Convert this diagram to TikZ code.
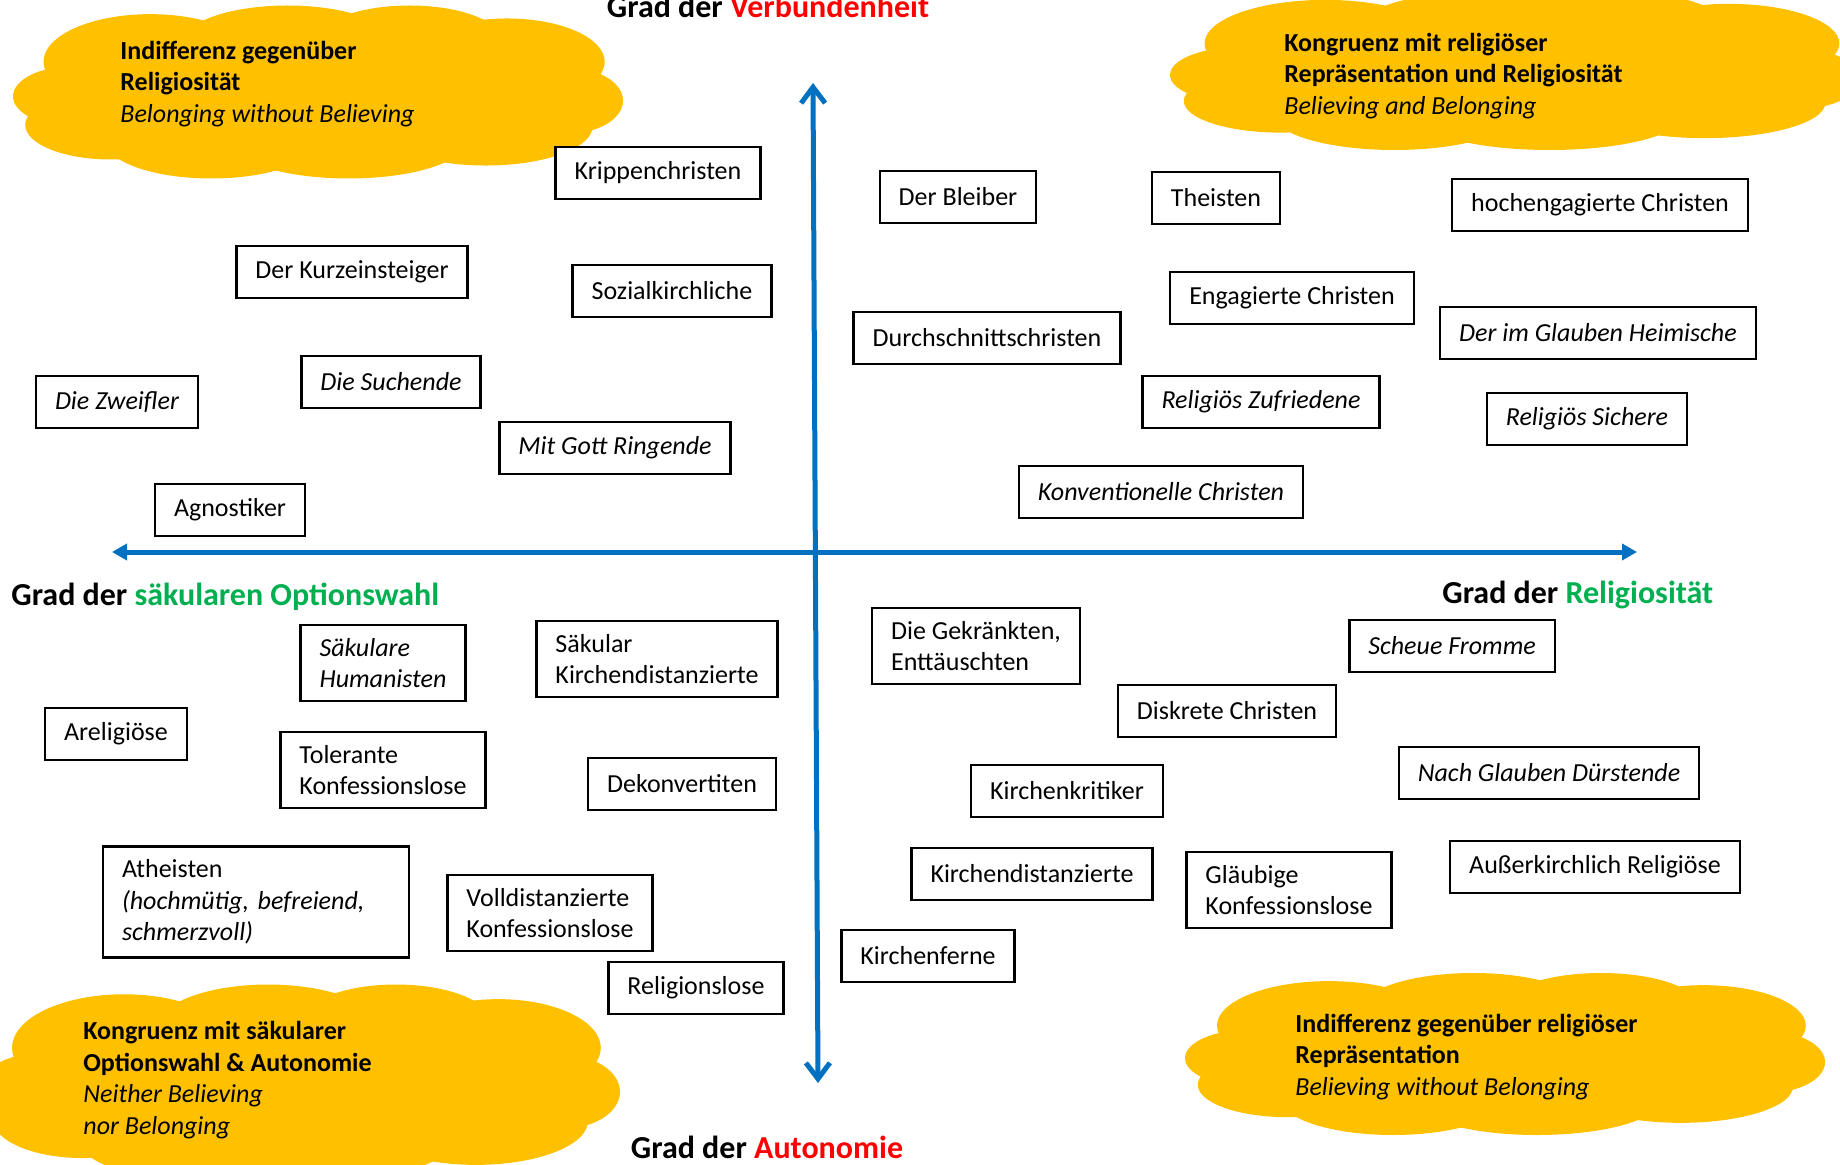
\documentclass[tikz,border=0pt]{standalone}
\usepackage{fontspec}
\setmainfont{Carlito}
\usetikzlibrary{arrows.meta}
\definecolor{axisblue}{HTML}{0070C0}
\definecolor{cloudyellow}{HTML}{FFC000}
\definecolor{titlered}{HTML}{FF0000}
\definecolor{titlegreen}{HTML}{00B050}

\begin{document}
\begin{tikzpicture}[%
x=0.5pt, y=-0.5pt,
typbox/.style={draw, fill=white, line width=1.2pt, inner xsep=9.5pt, inner ysep=6.5pt,
  minimum height=26pt, align=left, font=\fontsize{13pt}{15.8pt}\selectfont},
typboxit/.style={typbox, font=\fontsize{13pt}{15.8pt}\selectfont\itshape},
wolke/.pic={
  \fill[cloudyellow] (0,0) ellipse [x radius=0.72, y radius=0.7];
  \foreach \dx/\dy/\rx/\ry in {-0.80/0.05/0.20/0.35, -0.55/-0.35/0.35/0.55, -0.10/-0.55/0.35/0.45,
      0.30/-0.60/0.30/0.40, 0.62/-0.35/0.32/0.50, 0.82/0.10/0.18/0.38, 0.55/0.40/0.35/0.45,
      0.10/0.58/0.38/0.42, -0.35/0.55/0.35/0.45, -0.68/0.38/0.28/0.40}
    \fill[cloudyellow] (\dx,\dy) ellipse [x radius=\rx, y radius=\ry];
},
wolkentext/.style={anchor=west, align=left, inner sep=0pt, font=\fontsize{13pt}{15.8pt}\selectfont},
achse/.style={draw=axisblue, line width=2.5pt},
achsentitel/.style={anchor=base, inner sep=0pt, font=\fontsize{16pt}{19pt}\selectfont\bfseries},
]
\useasboundingbox (0,0) rectangle (1840,1165);
%% clouds;
\begin{scope}[shift={(318,92)}, x=152.5pt, y=-43.25pt] \pic {wolke}; \end{scope}
\begin{scope}[shift={(1515,71)}, x=172.5pt, y=-39.5pt] \pic {wolke}; \end{scope}
\begin{scope}[shift={(300,1082)}, x=160pt, y=-48.75pt] \pic {wolke}; \end{scope}
\begin{scope}[shift={(1505,1054)}, x=160pt, y=-40.5pt] \pic {wolke}; \end{scope}
\node[wolkentext] (textLO) at (120,84) {\textbf{Indifferenz gegenüber}\\\textbf{Religiosität}\\\textit{Belonging without Believing}};
\node[wolkentext] (textRO) at (1284,76) {\textbf{Kongruenz mit religiöser}\\\textbf{Repräsentation und Religiosität}\\\textit{Believing and Belonging}};
\node[wolkentext] (textLU) at (83,1080) {\textbf{Kongruenz mit säkularer}\\\textbf{Optionswahl \& Autonomie}\\\textit{Neither Believing}\\\textit{nor Belonging}};
\node[wolkentext] (textRU) at (1295,1057) {\textbf{Indifferenz gegenüber religiöser}\\\textbf{Repräsentation}\\\textit{Believing without Belonging}};
%% axes;
\coordinate (links) at (112,552);
\coordinate (rechts) at (1637,552);
\coordinate (oben) at (813,83);
\coordinate (unten) at (818,1083);
\draw[achse, {Triangle[length=7.5pt,width=8pt]}-{Triangle[length=7.5pt,width=8pt]}] (links) -- (rechts);
\draw[achse, {Straight Barb[length=8pt,width=12pt]}-{Straight Barb[length=8pt,width=12pt]}] (unten) -- (oben);
%% axis titles;
\node[achsentitel] (verbund) at (768,18) {Grad der \textcolor{titlered}{Verbundenheit}};
\node[achsentitel] (autonom) at (767,1158) {Grad der \textcolor{titlered}{Autonomie}};
\node[achsentitel, anchor=base west] (saekular) at (11,605) {Grad der \textcolor{titlegreen}{säkularen Optionswahl}};
\node[achsentitel, anchor=base west] (religios) at (1442,603) {Grad der \textcolor{titlegreen}{Religiosität}};
%% upper left;
\node[typbox] (krippen) at (658,173) {Krippenchristen};
\node[typbox] (kurzein) at (352,272) {Der Kurzeinsteiger};
\node[typbox] (sozial) at (672,291) {Sozialkirchliche};
\node[typboxit] (suchende) at (391,382) {Die Suchende};
\node[typboxit] (zweifler) at (117,402) {Die Zweifler};
\node[typboxit] (ringende) at (615,448) {Mit Gott Ringende};
\node[typbox] (agnost) at (230,510) {Agnostiker};
%% upper right;
\node[typbox] (bleiber) at (958,197) {Der Bleiber};
\node[typbox] (theisten) at (1216,198) {Theisten};
\node[typbox] (hochengag) at (1600,205) {hochengagierte Christen};
\node[typbox] (engag) at (1292,298) {Engagierte Christen};
\node[typbox] (durchschn) at (987,338) {Durchschnittschristen};
\node[typboxit] (heimisch) at (1598,333) {Der im Glauben Heimische};
\node[typboxit] (zufrieden) at (1261,402) {Religiös Zufriedene};
\node[typboxit] (sicher) at (1587,419) {Religiös Sichere};
\node[typboxit] (konvent) at (1161,492) {Konventionelle Christen};
%% lower left;
\node[typboxit] (humanist) at (383,663) {Säkulare\\Humanisten};
\node[typbox] (saekdist) at (657,659) {Säkular\\Kirchendistanzierte};
\node[typbox] (arelig) at (116,734) {Areligiöse};
\node[typbox] (toleran) at (383,770) {Tolerante\\Konfessionslose};
\node[typbox] (dekonv) at (682,784) {Dekonvertiten};
\node[typbox, text width=134pt] (atheist) at (256,902) {Atheisten\\\textit{(hochmütig, befreiend,}\\\textit{schmerzvoll)}};
\node[typbox] (volldist) at (550,913) {Volldistanzierte\\Konfessionslose};
\node[typbox] (religlos) at (696,988) {Religionslose};
%% lower right;
\node[typbox] (gekraenkt) at (976,646) {Die Gekränkten,\\Enttäuschten};
\node[typboxit] (scheu) at (1452,646) {Scheue Fromme};
\node[typbox] (diskret) at (1227,711) {Diskrete Christen};
\node[typboxit] (duerstend) at (1549,773) {Nach Glauben Dürstende};
\node[typbox] (kritik) at (1067,791) {Kirchenkritiker};
\node[typbox] (kirchdist) at (1032,874) {Kirchendistanzierte};
\node[typbox] (glaeubig) at (1289,890) {Gläubige\\Konfessionslose};
\node[typbox] (ausserk) at (1595,867) {Außerkirchlich Religiöse};
\node[typbox] (kferne) at (928,956) {Kirchenferne};
\end{tikzpicture}
\end{document}
